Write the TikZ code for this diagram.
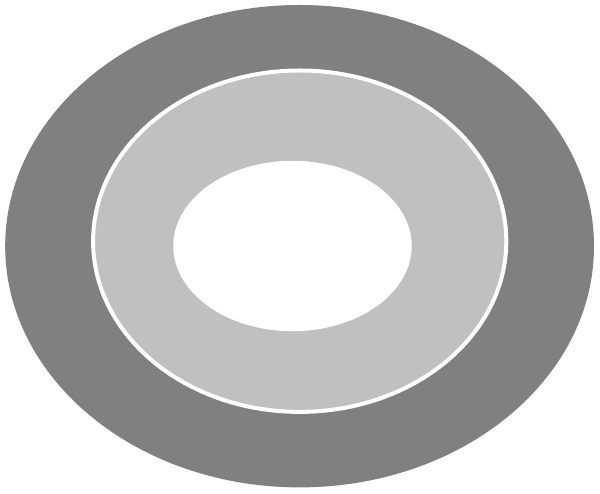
\documentclass[tikz,border=0pt]{standalone}
\begin{document}
\begin{tikzpicture}[x=1pt,y=1pt,
  outerring/.style={fill={rgb,255:red,128;green,128;blue,128}},
  middlering/.style={fill={rgb,255:red,192;green,192;blue,192},draw=white,line width=4pt},
  innerhole/.style={fill=white}]
\useasboundingbox[fill=white] (0,0) rectangle (600,494);
\fill[outerring] (299.6,247.8) ellipse [x radius=294.4, y radius=241.2];
\filldraw[middlering] (299.7,252.8) ellipse [x radius=206.6, y radius=170.7];
\fill[innerhole] (292.5,248) ellipse [x radius=119.2, y radius=85.2];
\end{tikzpicture}
\end{document}
